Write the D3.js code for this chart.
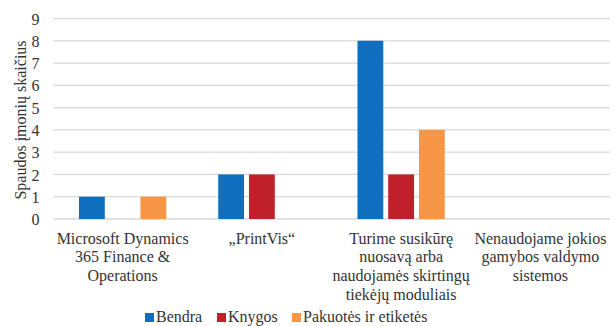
<!DOCTYPE html>
<html><head><meta charset="utf-8">
<script src="https://cdn.jsdelivr.net/npm/d3@7"></script>
</head><body style="margin:0;background:#fff"><svg id="c" width="615" height="326" style="display:block"></svg>
<script>
const categories = [
  ["Microsoft Dynamics","365 Finance &","Operations"],
  ["„PrintVis“"],
  ["Turime susikūrę","nuosavą arba","naudojamės skirtingų","tiekėjų moduliais"],
  ["Nenaudojame jokios","gamybos valdymo","sistemos"]
];
const seriesNames = ["Bendra","Knygos","Pakuotės ir etiketės"];
const bendra = [1,2,8,0];
const knygos = [0,2,2,0];
const pakuotes = [1,0,4,0];
const yTicks = [0,1,2,3,4,5,6,7,8,9];
const colors = ["#106EBE","#C0202A","#F79646"];
const yTitle = "Spaudos įmonių skaičius";

const FONT = "'Liberation Serif', Tinos, 'Times New Roman', serif";
const TXT = "#333333";
const values = [bendra, knygos, pakuotes];
const svg = d3.select("#c");
const m = {l:53, r:5};
const W = 615;
const x = d3.scaleBand().domain(d3.range(categories.length)).range([m.l, W-m.r]);
const y = d3.scaleLinear().domain([0,9]).range([219, 18.5]);
const xs = d3.scaleBand().domain(d3.range(3)).range([0, 87.3]).paddingInner(0.16);

function styleText(sel){
  return sel.style("font-family", FONT).style("font-size","16px").attr("fill", TXT);
}

// grid
svg.append("g").selectAll("line").data(yTicks).join("line")
  .attr("x1", m.l).attr("x2", W-m.r)
  .attr("y1", d=>y(d)).attr("y2", d=>y(d))
  .attr("stroke","#D9D9D9").attr("stroke-width",1.3);

// y axis labels
const ya = svg.append("g").attr("transform",`translate(39.5,0)`)
  .call(d3.axisLeft(y).tickValues(yTicks).tickSize(0).tickPadding(0));
ya.attr("font-family", null).attr("font-size", null);
ya.select(".domain").remove();
styleText(ya.selectAll("text")).attr("dy","0.35em");

// bars
values.forEach((vals,si)=>{
  svg.append("g").selectAll("rect").data(vals.map((v,i)=>({v,i})).filter(d=>d.v>0)).join("rect")
    .attr("x", d=>x(d.i)+x.bandwidth()/2-43.65+xs(si))
    .attr("width", xs.bandwidth())
    .attr("y", d=>y(d.v))
    .attr("height", d=>y(0)-y(d.v))
    .attr("fill", colors[si]);
});

// category labels
categories.forEach((lines,i)=>{
  const t = styleText(svg.append("text").attr("text-anchor","middle"));
  lines.forEach((ln,j)=>{
    t.append("tspan").attr("x", x(i)+x.bandwidth()/2).attr("y", 243.5+j*18.7).text(ln);
  });
});

// y title
styleText(svg.append("text").attr("transform","translate(26,120) rotate(-90)")
  .attr("text-anchor","middle")).text(yTitle);

// legend
const legX = [145, 217, 292];
seriesNames.forEach((n,i)=>{
  svg.append("rect").attr("x",legX[i]).attr("y",313).attr("width",9).attr("height",9).attr("fill",colors[i]);
  styleText(svg.append("text").attr("x",legX[i]+11).attr("y",321.5)).text(n);
});
</script></body></html>
